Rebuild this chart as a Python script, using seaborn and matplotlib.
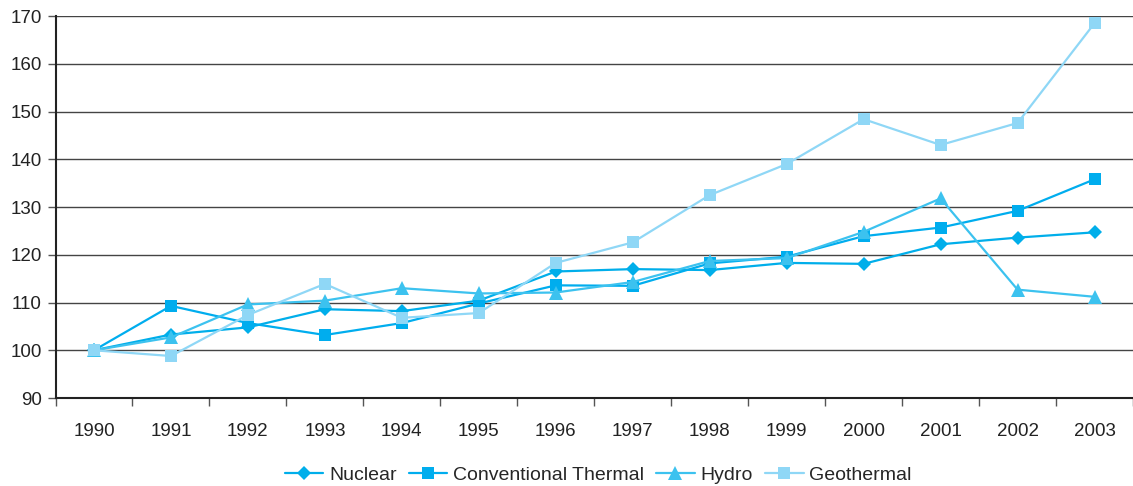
import pandas as pd
import numpy as np
import matplotlib
matplotlib.use("Agg")
import matplotlib.pyplot as plt
import seaborn as sns

years = [str(y) for y in range(1990, 2004)]
nuclear = [100, 103.3, 104.8, 108.6, 108.2, 110.4, 116.5, 117.0, 116.8, 118.3, 118.1, 122.2, 123.6, 124.7]
conv_thermal = [100, 109.3, 105.7, 103.2, 105.7, 109.8, 113.6, 113.5, 118.2, 119.6, 123.9, 125.7, 129.2, 135.8]
hydro = [100, 102.7, 109.6, 110.4, 113.0, 111.9, 112.1, 114.3, 118.7, 119.3, 124.8, 131.8, 112.7, 111.2]
geothermal = [100, 98.8, 107.4, 113.9, 106.8, 107.8, 118.3, 122.6, 132.5, 139.0, 148.4, 143.0, 147.6, 168.5]

series = ["Nuclear", "Conventional Thermal", "Hydro", "Geothermal"]
colors = ["#00aeea", "#00adee", "#3cc2ef", "#8fd7f6"]
markers = ["D", "s", "^", "s"]
msizes = [7.5, 9, 10, 9]

df = pd.DataFrame({"Year": years, "Nuclear": nuclear, "Conventional Thermal": conv_thermal,
                   "Hydro": hydro, "Geothermal": geothermal})
long = df.melt(id_vars="Year", var_name="Source", value_name="Index")

sns.set_style("white")
plt.rcParams["font.family"] = ["Liberation Sans", "DejaVu Sans"]

fig, ax = plt.subplots(figsize=(11.33, 4.86), dpi=100)
fig.subplots_adjust(left=0.049, right=1.0, top=0.967, bottom=0.181)

sns.lineplot(data=long, x="Year", y="Index", hue="Source", style="Source",
             palette=dict(zip(series, colors)), markers=dict(zip(series, markers)),
             dashes=False, linewidth=1.6, markeredgewidth=0, ax=ax, legend=False)
for line, ms in zip(ax.lines, msizes):
    line.set_markersize(ms)

ax.set_ylim(90, 170)
ax.set_xlim(-0.5, 13.5)
ax.set_yticks(np.arange(90, 171, 10))
ax.yaxis.grid(True, color="#444444", linewidth=1)
ax.set_axisbelow(True)
ax.set_xlabel("")
ax.set_ylabel("")
for s in ["top", "right"]:
    ax.spines[s].set_visible(False)
for s in ["left", "bottom"]:
    ax.spines[s].set_color("#222222")
    ax.spines[s].set_linewidth(1.5)

ax.set_xticks(np.arange(-0.5, 13.6, 1), minor=False)
ax.set_xticklabels([])
ax.set_xticks(np.arange(14), minor=True)
ax.set_xticklabels(years, minor=True)
ax.tick_params(axis="x", which="major", bottom=True, length=6, width=1, color="#555555", direction="out")
ax.tick_params(axis="x", which="minor", bottom=True, length=0, pad=18, labelsize=13.5, labelcolor="#222222")
ax.tick_params(axis="y", left=True, length=6, width=1, color="#555555", direction="out", pad=4,
               labelsize=13.5, labelcolor="#222222")

handles = [plt.Line2D([], [], color=c, marker=m, markersize=ms, markeredgewidth=0, linewidth=1.6)
           for c, m, ms in zip(colors, markers, msizes)]
fig.legend(handles, series, loc="center", bbox_to_anchor=(0.528, 0.022), ncol=4, frameon=False,
           fontsize=14, handlelength=2.0, handletextpad=0.3, columnspacing=0.6)

fig.savefig("out.png", dpi=100)
